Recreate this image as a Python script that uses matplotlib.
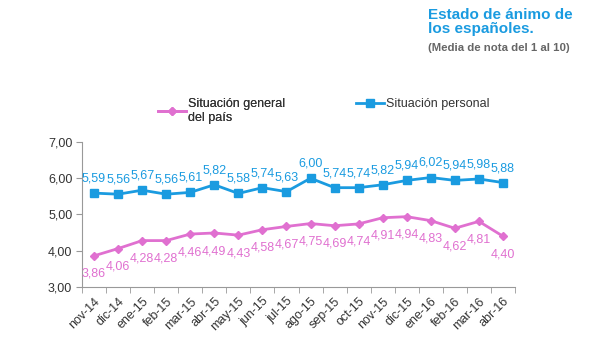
import matplotlib
matplotlib.use("Agg")
import matplotlib.pyplot as plt
from matplotlib.lines import Line2D

plt.rcParams['font.family'] = ['Liberation Sans', 'DejaVu Sans']

months = ["nov-14", "dic-14", "ene-15", "feb-15", "mar-15", "abr-15", "may-15", "jun-15",
          "jul-15", "ago-15", "sep-15", "oct-15", "nov-15", "dic-15", "ene-16", "feb-16",
          "mar-16", "abr-16"]
general = [3.86, 4.06, 4.28, 4.28, 4.46, 4.49, 4.43, 4.58, 4.67, 4.75, 4.69, 4.74,
           4.91, 4.94, 4.83, 4.62, 4.81, 4.40]
personal = [5.59, 5.56, 5.67, 5.56, 5.61, 5.82, 5.58, 5.74, 5.63, 6.00, 5.74, 5.74,
            5.82, 5.94, 6.02, 5.94, 5.98, 5.88]
yticks = [3.0, 4.0, 5.0, 6.0, 7.0]

pink = "#e070d0"
blue = "#1a9be0"
gray = "#999999"
txt = "#333333"

def fmt(v):
    return f"{v:.2f}".replace(".", ",")

fig = plt.figure(figsize=(6.0, 3.52), dpi=100)
ax = fig.add_axes([0.1367, 0.1847, 0.7216, 0.4119])
x = list(range(len(months)))

ax.plot(x, general, color=pink, lw=2, marker="D", ms=4.5, mfc=pink, mec=pink)
ax.plot(x, personal, color=blue, lw=2, marker="s", ms=5.5, mfc=blue, mec=blue)

for xi, v in zip(x, personal):
    ax.annotate(fmt(v), (xi, v), xytext=(0, 10.5), textcoords="offset points",
                ha="center", va="center", color=blue, fontsize=9)
for xi, v in zip(x, general):
    ax.annotate(fmt(v), (xi, v), xytext=(0, -13), textcoords="offset points",
                ha="center", va="center", color=pink, fontsize=9)

ax.set_xlim(-0.5, len(months) - 0.5)
ax.set_ylim(3, 7)
ax.set_yticks(yticks)
ax.set_yticklabels([fmt(v) for v in yticks], fontsize=9, color=txt)
ax.set_xticks(x)
ax.set_xticklabels(months, rotation=45, ha="right", rotation_mode="anchor",
                   fontsize=9, color=txt)
ax.set_xticks([i - 0.5 for i in range(len(months) + 1)], minor=True)
ax.tick_params(axis="x", which="major", length=0, pad=6)
ax.tick_params(axis="x", which="minor", length=4, color=gray, direction="out")
ax.tick_params(axis="y", length=4, color=gray, direction="out", pad=3)
for s in ["top", "right"]:
    ax.spines[s].set_visible(False)
for s in ["left", "bottom"]:
    ax.spines[s].set_color(gray)
    ax.spines[s].set_linewidth(0.8)

fig.text(0.713, 0.977, "Estado de ánimo de\nlos españoles.", color=blue, fontsize=11,
         fontweight="bold", ha="left", va="top", linespacing=1.0)
fig.text(0.713, 0.878, "(Media de nota del 1 al 10)", color="#666666", fontsize=8.2,
         fontweight="bold", ha="left", va="top")

# legend
h1 = Line2D([0], [0], color=pink, lw=2, marker="D", ms=4, mfc=pink, mec=pink)
h2 = Line2D([0], [0], color=blue, lw=2, marker="s", ms=5.5, mfc=blue, mec=blue)
leg1 = fig.legend([h1], ["Situación general\ndel país"], loc="upper left",
                  bbox_to_anchor=(0.255, 0.735), frameon=False, fontsize=9,
                  handlelength=2.2, handletextpad=0.2, borderaxespad=0, labelcolor=txt)
leg2 = fig.legend([h2], ["Situación personal"], loc="upper left",
                  bbox_to_anchor=(0.585, 0.735), frameon=False, fontsize=9,
                  handlelength=2.2, handletextpad=0.2, borderaxespad=0, labelcolor=txt)
fig.add_artist(leg1)

fig.savefig("out.png", dpi=100)
